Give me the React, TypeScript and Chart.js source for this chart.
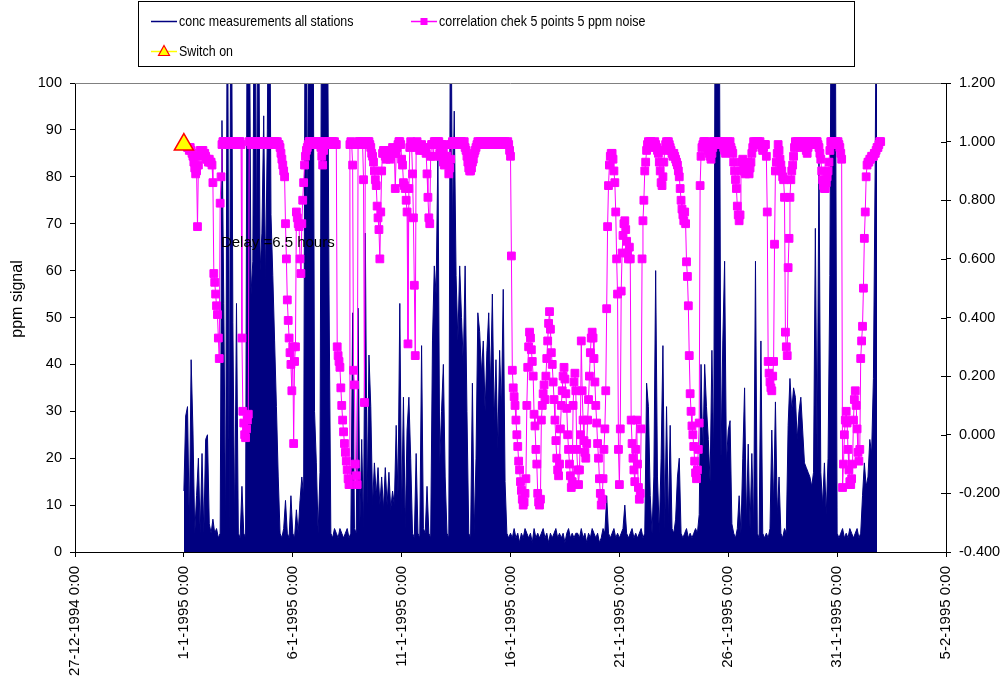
import React, { useEffect, useRef } from 'react';
import { Chart, registerables } from 'chart.js';

Chart.register(...registerables);

// ---- axis / category data ----
// x axis: days counted from 27-12-1994 0:00
const xTickLabels = [
  '27-12-1994 0:00', '1-1-1995 0:00', '6-1-1995 0:00', '11-1-1995 0:00',
  '16-1-1995 0:00', '21-1-1995 0:00', '26-1-1995 0:00', '31-1-1995 0:00', '5-2-1995 0:00',
];
const xMinDay = 0;
const xMaxDay = 40;
const xStepDays = 5;
const seriesStartDay = 5; // 1-1-1995 0:00
const concSampleHours = 2;
const corrSampleHours = 1;

const leftMin = 0, leftMax = 100, leftStep = 10;
const rightMin = -0.4, rightMax = 1.2, rightStep = 0.2;

const legendLabels = ['conc measurements all stations', 'correlation chek 5 points 5 ppm noise', 'Switch on'];
const yTitle = 'ppm signal';
const noteText = 'Delay =6.5 hours';
const noteDay = 6.7;
const noteValue = 66;

// ---- conc values (2-hourly samples from 1-1-1995 0:00), ppm ----
const conc = [
  13, 29, 31, 5, 41, 26, 4, 12, 20, 4,
  21, 4, 24, 25, 6, 4, 7, 4, 5, 3,
  4, 92, 53, 4, 140, 5, 150, 49, 5, 53,
  4, 3, 14, 4, 3, 140, 130, 55, 62, 150,
  64, 140, 60, 68, 93, 58, 90, 150, 72, 59,
  45, 31, 16, 4, 3, 5, 11, 4, 3, 12,
  4, 3, 9, 4, 11, 16, 12, 150, 60, 150,
  140, 150, 30, 19, 4, 17, 140, 160, 150, 130,
  55, 4, 3, 5, 4, 3, 5, 4, 3, 4,
  5, 3, 4, 51, 5, 4, 52, 6, 24, 5,
  68, 10, 42, 31, 10, 19, 12, 18, 10, 16,
  9, 18, 10, 17, 9, 13, 10, 27, 12, 53,
  8, 33, 5, 26, 33, 20, 4, 3, 21, 4,
  3, 44, 5, 4, 14, 4, 3, 45, 61, 55,
  86, 19, 30, 40, 16, 4, 3, 140, 68, 94,
  59, 45, 61, 50, 40, 61, 30, 4, 3, 36,
  4, 20, 51, 47, 38, 45, 30, 43, 51, 35,
  55, 28, 41, 22, 43, 30, 56, 15, 4, 3,
  4, 3, 5, 3, 4, 2, 4, 3, 5, 4,
  3, 4, 2, 5, 3, 4, 3, 4, 5, 3,
  4, 2, 4, 3, 4, 5, 3, 4, 3, 4,
  2, 4, 5, 3, 4, 3, 4, 4, 3, 5,
  3, 4, 2, 4, 3, 5, 4, 3, 4, 2,
  3, 5, 4, 12, 4, 3, 4, 5, 3, 4,
  3, 4, 5, 10, 4, 3, 4, 5, 3, 4,
  3, 4, 5, 3, 4, 36, 31, 12, 4, 16,
  60, 16, 4, 20, 44, 5, 31, 6, 27, 5,
  4, 7, 16, 20, 4, 3, 4, 5, 3, 4,
  3, 4, 5, 4, 8, 40, 20, 40, 31, 24,
  15, 43, 20, 150, 160, 130, 20, 45, 62, 19,
  26, 28, 6, 4, 3, 5, 12, 4, 20, 35,
  6, 23, 5, 21, 5, 62, 4, 3, 45, 4,
  3, 4, 3, 5, 26, 10, 32, 8, 16, 4,
  3, 5, 4, 27, 37, 30, 35, 33, 24, 30,
  33, 26, 19, 18, 17, 16, 14, 17, 69, 20,
  85, 17, 10, 19, 8, 20, 59, 150, 160, 120,
  4, 3, 4, 5, 3, 4, 3, 5, 4, 3,
  4, 5, 3, 4, 12, 19, 14, 16, 24, 21,
  37, 84, 150,
];

// ---- correlation values (hourly samples from 1-1-1995 0:00) ----
const correlation: (number | null)[] = [
  null, null, null, null,
  0.98, 0.98, 0.97, 0.98, 0.97, 0.96, 0.95, 0.93, 0.91,
  0.89, 0.9, 0.71, 0.92, 0.95,
  0.97, 0.97, 0.96, 0.97, 0.96, 0.96, 0.95, 0.94, 0.94, 0.93, 0.94, 0.93, 0.93, 0.92,
  0.86, 0.55, 0.52, 0.48, 0.44, 0.41, 0.33, 0.26, 0.79,
  0.88,
  0.99, 1.0, 1.0, 0.99, 1.0, 1.0, 1.0, 0.99, 1.0, 1.0, 0.99, 1.0, 1.0, 1.0, 0.99, 0.99, 1.0, 1.0, 0.99, 1.0, 1.0, 0.99,
  0.33, 0.08, 0.04, 0.0, -0.01, 0.02, 0.05, 0.07, 1.0,
  1.0, 0.99, 1.0, 1.0, 1.0, 0.99, 1.0, 1.0, 0.99, 1.0, 1.0, 1.0, 0.99, 1.0, 1.0, 0.99, 1.0,
  1.0, 1.0, 0.99, 1.0, 1.0, 0.99, 1.0, 1.0, 1.0, 0.99, 1.0, 1.0, 0.99, 1.0, 0.99, 0.99,
  0.98, 0.96, 0.94, 0.92, 0.9, 0.88, 0.72, 0.6, 0.46, 0.39, 0.33, 0.28, 0.24, 0.15,
  0.3, -0.03, 0.25, 0.3, 0.76, 0.74, 0.72, 0.71, 0.6, 0.55, 0.72, 0.8, 0.86, 0.92,
  0.95, 0.97, 0.98, 0.99, 1.0, 1.0, 0.99, 1.0, 1.0, 1.0, 0.99, 1.0, 1.0, 0.99, 1.0, 1.0, 0.99, 0.98,
  0.95, 0.92, 0.97, 0.99, 1.0, 1.0, 0.99, 1.0, 1.0, 1.0, 0.99, 1.0, 1.0, 0.99, 1.0, 0.99, 0.99,
  0.3, 0.27, 0.25, 0.23, 0.16, 0.1, 0.05, 0.01, -0.03, -0.06, -0.09, -0.12, -0.15, -0.17, 0.99,
  1.0, 0.99, 0.92, 0.22, 0.17, -0.1, -0.14, -0.17, 0.99, 1.0,
  1.0, 0.99, 1.0, 0.99, 0.87, 0.11, 0.99,
  1.0, 0.99, 1.0, 1.0, 0.99, 0.98, 0.96, 0.95, 0.93, 0.9, 0.87, 0.85, 0.78, 0.74, 0.7, 0.6, 0.76, 0.9,
  0.96, 0.97, 0.96, 0.95, 0.94, 0.95, 0.97, 0.96, 0.94, 0.95, 0.97, 0.98, 0.97, 0.96, 0.84, 0.96, 0.98, 0.99, 1.0,
  1.0, 0.99, 0.94, 0.92, 0.86, 0.85, 0.84, 0.8, 0.76, 0.31, 0.84, 0.98, 1.0, 0.99,
  0.89, 0.74, 0.51, 0.27, 0.98, 1.0,
  0.99, 0.98, 0.97, 0.98, 0.99, 0.98, 0.97, 0.98, 0.97, 0.96, 0.89, 0.81, 0.74, 0.72, 0.95, 0.99,
  0.99, 0.95, 1.0, 1.0, 1.0, 0.99, 1.0, 1.0, 0.96, 0.95, 0.99, 0.96, 0.93, 0.92, 0.95, 0.99, 0.95, 0.92, 0.89, 0.91, 0.94, 0.99,
  1.0, 0.99, 1.0, 1.0, 0.99, 1.0, 1.0, 1.0, 0.99, 1.0, 1.0, 0.99, 0.99, 1.0, 0.98, 0.97,
  0.95, 0.93, 0.91, 0.9, 0.9, 0.91, 0.93, 0.94, 0.96, 0.97, 0.98, 0.99,
  1.0, 0.99, 1.0, 1.0, 0.99, 1.0, 1.0, 1.0, 0.99, 1.0, 1.0, 0.99, 1.0, 1.0, 1.0, 0.99, 1.0, 1.0,
  0.99, 0.99, 1.0, 1.0, 1.0, 0.99, 1.0, 1.0, 0.99, 1.0, 1.0, 0.99, 1.0, 0.99, 0.99, 1.0, 0.99,
  0.97, 0.95, 0.61, 0.22, 0.16,
  0.13, 0.1, 0.05, 0.0, -0.04, -0.09,
  -0.12, -0.16, -0.19, -0.22, -0.24, -0.23, -0.2, -0.15,
  0.1, 0.23, 0.3, 0.35, 0.33, 0.29, 0.25, 0.2,
  0.07, 0.03, -0.05, -0.1,
  -0.2, -0.23, -0.24, -0.22,
  0.05, 0.1, 0.14, 0.17, 0.12,
  0.2, 0.26, 0.32, 0.38, 0.42, 0.36, 0.28, 0.24,
  0.18, 0.12, 0.05, -0.02, -0.08,
  -0.12, -0.14, -0.1, 0.02,
  0.1, 0.15, 0.2, 0.23, 0.19, 0.14, 0.09,
  0.0, -0.05, -0.1, -0.14, -0.18, -0.16,
  0.1, 0.18, 0.21, 0.15,
  -0.05, -0.12, -0.17, -0.12, 0.0,
  0.32, 0.15, 0.05, -0.02,
  -0.06, -0.08, -0.03, 0.05,
  0.12, 0.2, 0.28, 0.33, 0.35, 0.33, 0.26, 0.18,
  0.1, 0.04, -0.03, -0.08,
  -0.15, -0.2, -0.24, -0.22, -0.15,
  -0.05, 0.02, 0.15,
  0.43, 0.71, 0.85, 0.92, 0.95, 0.96, 0.96, 0.94, 0.9, 0.86, 0.76, 0.6, 0.48, -0.05, -0.17,
  0.02, 0.49, 0.62, 0.68, 0.72, 0.73, 0.7, 0.66, 0.62, 0.6, 0.64, 0.6, 0.05, -0.03, -0.08, -0.12,
  -0.16, -0.05, 0.05, -0.1, -0.18, -0.22, -0.2, 0.02, 0.6, 0.73, 0.8, 0.9, 0.93, 0.97, 0.99,
  1.0, 0.99, 1.0, 1.0, 0.99, 0.98, 0.99, 1.0, 0.99, 0.98, 0.97, 0.96, 0.93, 0.9, 0.86, 0.85, 0.88,
  0.93, 0.97, 0.99, 1.0, 0.99, 1.0, 0.99, 0.98, 0.97, 0.96, 0.95, 0.96, 0.95, 0.94, 0.93, 0.92, 0.9,
  0.88, 0.84, 0.8, 0.77, 0.75, 0.73, 0.76, 0.72, 0.59, 0.54, 0.44, 0.27, 0.14,
  0.08, 0.03, 0.0, -0.04, -0.09, -0.13, -0.15, -0.12, -0.05, 0.04, 0.85, 0.95,
  0.98, 0.99, 1.0, 1.0, 0.99, 1.0, 0.98, 0.97, 0.96, 0.95, 0.94, 0.96, 0.98, 1.0, 1.0, 0.99, 1.0,
  1.0, 1.0, 0.99, 1.0, 1.0, 0.99, 1.0, 0.98, 0.97, 0.96, 0.97, 0.99, 1.0, 0.99, 1.0, 0.98, 0.97,
  0.96, 0.93, 0.9, 0.87, 0.84, 0.78, 0.75, 0.73, 0.75, 0.9, 0.93, 0.94, 0.92,
  0.9, 0.89, 0.91, 0.93, 0.9, 0.89, 0.91, 0.93, 0.96, 0.98, 1.0, 0.99, 1.0,
  0.99, 1.0, 1.0, 0.99, 1.0, 0.99, 0.98, 0.97, 0.98, 0.99, 0.99,
  0.95, 0.76, 0.25, 0.21, 0.18, 0.16, 0.15, 0.2, 0.25, 0.65, 0.9, 0.93, 0.96, 0.99,
  0.97, 0.94, 0.92, 0.9, 0.88, 0.87, 0.81, 0.35, 0.3, 0.27, 0.57, 0.67, 0.81, 0.87, 0.9, 0.92, 0.95, 0.98,
  1.0, 0.99, 1.0, 1.0, 0.99, 0.98, 0.99, 1.0, 0.99, 1.0, 1.0, 0.99, 0.97, 0.96,
  0.98, 1.0, 1.0, 0.99, 1.0, 1.0, 0.99, 1.0, 0.99, 1.0, 1.0, 0.99, 0.98, 0.96,
  0.94, 0.9, 0.87, 0.85, 0.84, 0.84, 0.86, 0.88, 0.9, 0.93, 0.97, 1.0, 1.0,
  0.99, 1.0, 0.99, 1.0, 1.0, 0.99, 1.0, 0.99, 0.98, 0.96, 0.94,
  -0.18, -0.1, 0.0, 0.05, 0.08, 0.04, -0.05, -0.12, -0.16, -0.17, -0.15, -0.1,
  0.05, 0.12, 0.15, 0.1, 0.02, -0.06, -0.09, -0.05, 0.26, 0.32, 0.37,
  0.5, 0.67, 0.76, 0.88, 0.92, 0.93, 0.93, 0.94, 0.94, 0.95,
  0.95, 0.95, 0.96, 0.96, 0.97, 0.98, 0.98, 0.99, 1.0, 1.0,
];

const switchOnDay = 5;
const switchOnValue = 0.99;

const NAVY = '#000080';
const MAGENTA = '#FF00FF';
const FONT = '"Liberation Sans", Arial, sans-serif';

const overlayPlugin = {
  id: 'overlay',
  afterDatasetsDraw(chart: any) {
    const { ctx, scales } = chart;
    ctx.save();
    ctx.font = `15px ${FONT}`;
    ctx.fillStyle = '#000';
    ctx.textBaseline = 'middle';
    ctx.textAlign = 'left';
    ctx.fillText(noteText, scales.x.getPixelForValue(noteDay), scales.y.getPixelForValue(noteValue));
    ctx.restore();
  },
  afterDraw(chart: any) {
    const { ctx, chartArea, scales } = chart;
    ctx.save();
    // plot-area top border
    ctx.strokeStyle = '#808080';
    ctx.lineWidth = 1;
    ctx.beginPath();
    ctx.moveTo(chartArea.left, chartArea.top + 0.5);
    ctx.lineTo(chartArea.right, chartArea.top + 0.5);
    ctx.stroke();
    // inner halves of the right axis tick marks
    ctx.strokeStyle = '#000';
    const y2 = scales.y2;
    y2.ticks.forEach((t: any) => {
      const py = Math.round(y2.getPixelForValue(t.value)) + 0.5;
      ctx.beginPath();
      ctx.moveTo(chartArea.right - 5, py);
      ctx.lineTo(chartArea.right, py);
      ctx.stroke();
    });

    // left axis title
    ctx.save();
    ctx.translate(18, 299);
    ctx.rotate(-Math.PI / 2);
    ctx.font = `16px ${FONT}`;
    ctx.fillStyle = '#000';
    ctx.textAlign = 'center';
    ctx.textBaseline = 'middle';
    ctx.fillText(yTitle, 0, 0);
    ctx.restore();

    // legend
    ctx.strokeStyle = '#000';
    ctx.strokeRect(138.5, 1.5, 716, 65);
    const row1 = 21, row2 = 51;
    const drawText = (txt: string, x: number, y: number) => {
      ctx.save();
      ctx.translate(x, y);
      ctx.scale(0.89, 1);
      ctx.font = `14px ${FONT}`;
      ctx.fillStyle = '#000';
      ctx.textBaseline = 'middle';
      ctx.textAlign = 'left';
      ctx.fillText(txt, 0, 0);
      ctx.restore();
    };
    // conc
    ctx.strokeStyle = NAVY;
    ctx.lineWidth = 1.5;
    ctx.beginPath();
    ctx.moveTo(151, row1 + 0.5);
    ctx.lineTo(177, row1 + 0.5);
    ctx.stroke();
    drawText(legendLabels[0], 179, row1 + 1);
    // correlation
    ctx.strokeStyle = MAGENTA;
    ctx.beginPath();
    ctx.moveTo(411, row1 + 0.5);
    ctx.lineTo(437, row1 + 0.5);
    ctx.stroke();
    ctx.fillStyle = MAGENTA;
    ctx.fillRect(420.5, row1 - 3, 7, 7);
    drawText(legendLabels[1], 439, row1 + 1);
    // switch on
    ctx.strokeStyle = '#FFFF00';
    ctx.beginPath();
    ctx.moveTo(151, row2 + 0.5);
    ctx.lineTo(177, row2 + 0.5);
    ctx.stroke();
    ctx.fillStyle = '#FFFF00';
    ctx.strokeStyle = '#FF0000';
    ctx.lineWidth = 1.2;
    ctx.beginPath();
    ctx.moveTo(164, row2 - 5.5);
    ctx.lineTo(169.5, row2 + 4.5);
    ctx.lineTo(158.5, row2 + 4.5);
    ctx.closePath();
    ctx.fill();
    ctx.stroke();
    drawText(legendLabels[2], 179, row2 + 1);
    ctx.restore();
  },
};

export default function App() {
  const ref = useRef<HTMLCanvasElement | null>(null);

  useEffect(() => {
    document.body.style.margin = '0';
    const canvas = ref.current;
    if (!canvas) return;

    const concPoints = conc.map((v, i) => ({ x: seriesStartDay + (i * concSampleHours) / 24, y: v }));
    const corrPoints = correlation.map((v, i) => ({ x: seriesStartDay + (i * corrSampleHours) / 24, y: v }));

    const tickFont = { family: FONT, size: 14.5 };

    const chart = new Chart(canvas, {
      type: 'line',
      data: {
        datasets: [
          {
            label: legendLabels[2],
            data: [{ x: switchOnDay, y: switchOnValue }],
            yAxisID: 'y2',
            showLine: false,
            pointStyle: 'triangle',
            pointRadius: 11,
            pointBackgroundColor: '#FFFF00',
            pointBorderColor: '#FF0000',
            pointBorderWidth: 1.5,
            borderColor: '#FFFF00',
            backgroundColor: '#FFFF00',
          },
          {
            label: legendLabels[1],
            data: corrPoints as any,
            yAxisID: 'y2',
            borderColor: MAGENTA,
            backgroundColor: MAGENTA,
            borderWidth: 1,
            pointStyle: 'rect',
            pointRadius: 5.5,
            pointBorderWidth: 1,
            pointBackgroundColor: MAGENTA,
            pointBorderColor: MAGENTA,
            spanGaps: false,
          },
          {
            label: legendLabels[0],
            data: concPoints,
            yAxisID: 'y',
            borderColor: NAVY,
            backgroundColor: NAVY,
            borderWidth: 1,
            pointRadius: 0,
            fill: 'origin',
          },
        ],
      },
      options: {
        responsive: false,
        animation: false,
        devicePixelRatio: 1,
        layout: { padding: { top: 83, left: 0, right: 0, bottom: 0 } },
        elements: { line: { tension: 0 } },
        plugins: {
          legend: { display: false },
          tooltip: { enabled: false },
        },
        scales: {
          x: {
            type: 'linear',
            min: xMinDay,
            max: xMaxDay,
            afterFit: (s: any) => { s.height = 127; },
            afterBuildTicks: (s: any) => {
              s.ticks = xTickLabels.map((_, k) => ({ value: xMinDay + k * xStepDays }));
            },
            ticks: {
              autoSkip: false,
              minRotation: 90,
              maxRotation: 90,
              padding: 9,
              color: '#000',
              font: { family: FONT, size: 15 },
              callback: (v: any) => xTickLabels[Math.round((Number(v) - xMinDay) / xStepDays)] ?? '',
            },
            grid: { drawOnChartArea: false, drawTicks: true, tickLength: 5, color: '#000' },
            border: { display: true, color: '#000' },
          },
          y: {
            position: 'left',
            min: leftMin,
            max: leftMax,
            afterFit: (s: any) => { s.width = 75; },
            ticks: { stepSize: leftStep, padding: 8, color: '#000', font: tickFont },
            grid: { drawOnChartArea: false, drawTicks: true, tickLength: 5, color: '#000' },
            border: { display: true, color: '#000' },
          },
          y2: {
            position: 'right',
            min: rightMin,
            max: rightMax,
            afterFit: (s: any) => { s.width = 57; },
            ticks: {
              stepSize: rightStep,
              padding: 8,
              color: '#000',
              font: tickFont,
              callback: (v: any) => {
                const n = Number(v);
                return (Math.abs(n) < 1e-9 ? 0 : n).toFixed(3);
              },
            },
            grid: { drawOnChartArea: false, drawTicks: true, tickLength: 5, color: '#000' },
            border: { display: true, color: '#000' },
          },
        },
      } as any,
      plugins: [overlayPlugin],
    });

    return () => chart.destroy();
  }, []);

  return <canvas ref={ref} width={1003} height={679} style={{ display: 'block' }} />;
}
